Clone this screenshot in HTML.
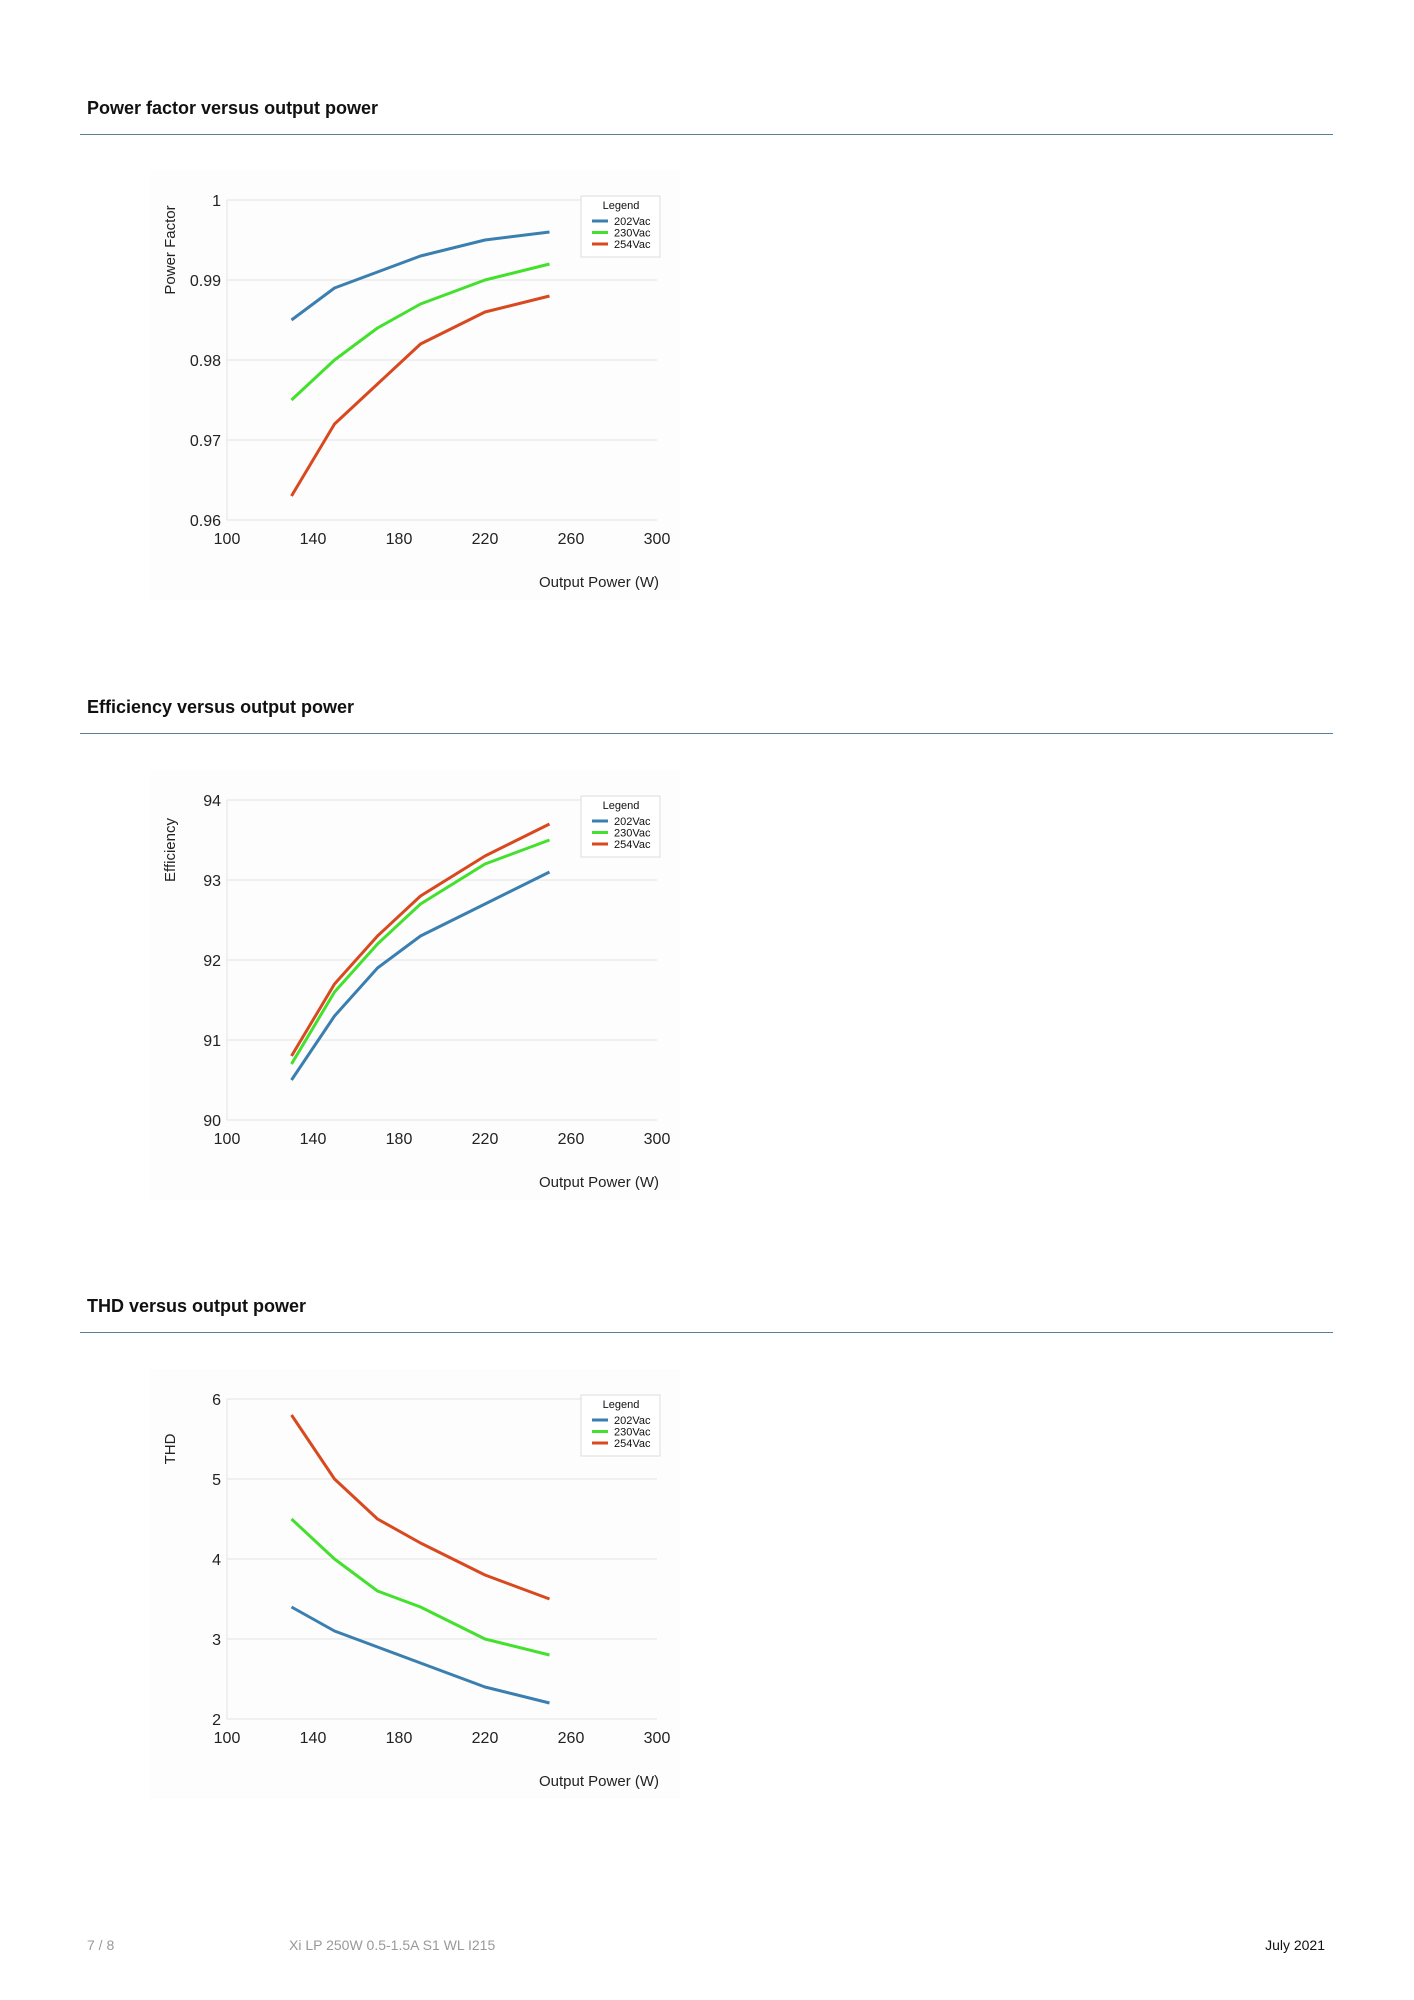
<!DOCTYPE html>
<html><head><meta charset="utf-8"><style>
body{margin:0;background:#fff;width:1414px;height:2000px;position:relative;font-family:"Liberation Sans",sans-serif;overflow:hidden}
.t{position:absolute;left:87px;font-weight:bold;font-size:18px;color:#111}
.rule{position:absolute;left:80px;width:1253px;height:1px;background:#5a7f96}
.f{position:absolute;top:1937px;font-size:14px;color:#999}
svg{position:absolute;left:0;top:0}
</style></head><body>
<div class="t" style="top:98px">Power factor versus output power</div>
<div class="rule" style="top:134px"></div>
<div class="t" style="top:697px">Efficiency versus output power</div>
<div class="rule" style="top:733px"></div>
<div class="t" style="top:1296px">THD versus output power</div>
<div class="rule" style="top:1332px"></div>
<div class="f" style="left:87px">7 / 8</div>
<div class="f" style="left:289px">Xi LP 250W 0.5-1.5A S1 WL I215</div>
<div class="f" style="right:89px;color:#111">July 2021</div>
<svg id="s" width="1414" height="2000"></svg>
<script>
const xVals=[130,150,170,190,220,250];
const xTicks=[100,140,180,220,260,300];
const seriesNames=["202Vac","230Vac","254Vac"];
const colors=["#3a7fb0","#44e02e","#d8491f"];
const pf202=[0.985,0.989,0.991,0.993,0.995,0.996];
const pf230=[0.975,0.980,0.984,0.987,0.990,0.992];
const pf254=[0.963,0.972,0.977,0.982,0.986,0.988];
const pfTicks=[0.96,0.97,0.98,0.99,1];
const pfTickLabels=["0.96","0.97","0.98","0.99","1"];
const ef202=[90.5,91.3,91.9,92.3,92.7,93.1];
const ef230=[90.7,91.6,92.2,92.7,93.2,93.5];
const ef254=[90.8,91.7,92.3,92.8,93.3,93.7];
const efTicks=[90,91,92,93,94];
const thd202=[3.4,3.1,2.9,2.7,2.4,2.2];
const thd230=[4.5,4.0,3.6,3.4,3.0,2.8];
const thd254=[5.8,5.0,4.5,4.2,3.8,3.5];
const thdTicks=[2,3,4,5,6];
const svg=document.getElementById('s');
const NS="http://www.w3.org/2000/svg";
function mk(tag,attrs,text){const e=document.createElementNS(NS,tag);for(const k in attrs)e.setAttribute(k,attrs[k]);if(text!==undefined)e.textContent=text;svg.appendChild(e);return e;}
function chart(off,key,yTitle,ticks,labels,series){
 const L=227,R=657,T=200+off,B=520+off;
 const xs=v=>L+(v-100)/(300-100)*(R-L);
 const ys=v=>B-(v-ticks[0])/(ticks[ticks.length-1]-ticks[0])*(B-T);
 const bg=mk('rect',{x:150,y:T-30,width:530,height:430,fill:'#fdfdfd'});
 
 
 ticks.forEach((t,i)=>{
  const g=mk('line',{x1:L,x2:R,y1:ys(t),y2:ys(t),stroke:'#e2e2e2','stroke-width':1});
  
  
  const tl=mk('text',{x:L-6,y:ys(t)+6,'text-anchor':'end','font-size':16,fill:'#222'},labels?labels[i]:String(t));
  
  
 });
 const ax=mk('line',{x1:L,x2:L,y1:T,y2:B,stroke:'#e2e2e2'});
 
 
 xTicks.forEach(t=>{
  const tl=mk('text',{x:xs(t),y:B+24,'text-anchor':'middle','font-size':16,fill:'#222'},String(t));
  
  
 });
 const xt=mk('text',{x:659,y:B+67,'text-anchor':'end','font-size':15,fill:'#222'},'Output Power (W)');
 
 
 const yt=mk('text',{x:0,y:0,'text-anchor':'middle','font-size':15,fill:'#222',transform:`translate(175,${250+off}) rotate(-90)`},yTitle);
 
 
 series.forEach((s,i)=>{
  const p=mk('polyline',{points:s.map((v,j)=>xs(xVals[j])+','+ys(v)).join(' '),fill:'none',stroke:colors[i],'stroke-width':3,'stroke-linejoin':'round'});
  
  
 });
 const lb=mk('rect',{x:581,y:196+off,width:79,height:61,fill:'#fff',stroke:'#ddd'});
 
 
 const lt=mk('text',{x:621,y:209+off,'text-anchor':'middle','font-size':11,fill:'#111'},'Legend');
 
 
 seriesNames.forEach((n,i)=>{
  const y=221+off+i*11.5;
  const sw=mk('line',{x1:592,x2:608,y1:y,y2:y,stroke:colors[i],'stroke-width':3});
  
  
  const tx=mk('text',{x:614,y:y+4,'font-size':11,fill:'#111'},n);
  
  
 });
}
chart(0,'pf','Power Factor',pfTicks,pfTickLabels,[pf202,pf230,pf254]);
chart(600,'eff','Efficiency',efTicks,null,[ef202,ef230,ef254]);
chart(1199,'thd','THD',thdTicks,null,[thd202,thd230,thd254]);
</script>
</body></html>
